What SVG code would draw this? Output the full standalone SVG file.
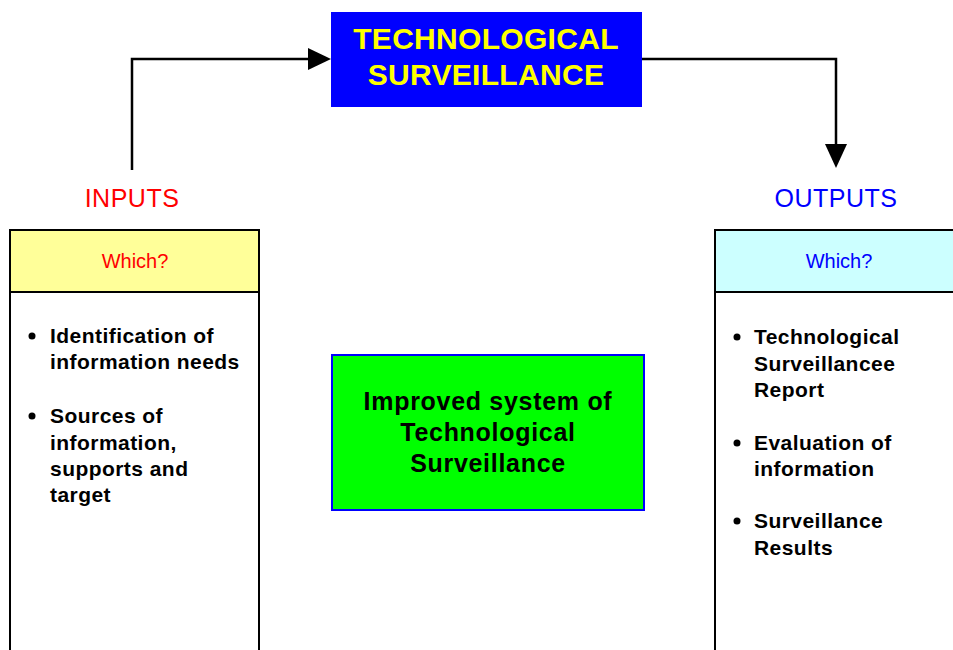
<svg xmlns="http://www.w3.org/2000/svg" width="953" height="650" viewBox="0 0 953 650">
<style>
text{font-family:"Liberation Sans",Arial,sans-serif}
.b{font-weight:bold;font-size:21px;fill:#000;letter-spacing:0.45px}
.g{font-weight:bold;font-size:25px;fill:#000;letter-spacing:0.7px}
.c{stroke:#000;stroke-width:2.5;fill:none}
</style>
<rect width="953" height="650" fill="#fff"/>
<g id="connectors">
<path class="c" d="M132,170V59H308"/>
<path d="M308,48L331,59L308,70z" fill="#000"/>
<path class="c" d="M642,59H836V146"/>
<path d="M825,144L836,168L847,144z" fill="#000"/>
</g>
<g id="title">
<rect x="331" y="12" width="311" height="95" fill="#0000ff"/>
<text x="486" y="49" text-anchor="middle" font-size="30" font-weight="bold" fill="#ffff00" letter-spacing="0.3">TECHNOLOGICAL</text>
<text x="486" y="85" text-anchor="middle" font-size="30" font-weight="bold" fill="#ffff00" letter-spacing="0.3">SURVEILLANCE</text>
</g>
<g id="inputs-label"><text x="132" y="207" text-anchor="middle" font-size="25" fill="#ff0000" letter-spacing="0.5">INPUTS</text></g>
<g id="outputs-label"><text x="836" y="207" text-anchor="middle" font-size="25" fill="#0000ff" letter-spacing="0.5">OUTPUTS</text></g>
<g id="inputs">
<rect x="10" y="230" width="249" height="430" fill="#fff" stroke="#000" stroke-width="2"/>
<rect x="10" y="230" width="249" height="62" fill="#ffff99" stroke="#000" stroke-width="2"/>
<text x="135" y="268" text-anchor="middle" font-size="20" fill="#ff0000">Which?</text>
<circle cx="32" cy="336" r="3.5" fill="#000"/>
<text class="b" x="50" y="343">Identification of</text>
<text class="b" x="50" y="369">information needs</text>
<circle cx="32" cy="416" r="3.5" fill="#000"/>
<text class="b" x="50" y="423">Sources of</text>
<text class="b" x="50" y="450">information,</text>
<text class="b" x="50" y="476">supports and</text>
<text class="b" x="50" y="502">target</text>
</g>
<g id="outputs">
<rect x="715" y="230" width="250" height="430" fill="#fff" stroke="#000" stroke-width="2"/>
<rect x="715" y="230" width="250" height="62" fill="#ccffff" stroke="#000" stroke-width="2"/>
<text x="839" y="268" text-anchor="middle" font-size="20" fill="#0000ff">Which?</text>
<circle cx="737" cy="337" r="3.5" fill="#000"/>
<text class="b" x="754" y="344">Technological</text>
<text class="b" x="754" y="371">Surveillancee</text>
<text class="b" x="754" y="397">Report</text>
<circle cx="737" cy="443" r="3.5" fill="#000"/>
<text class="b" x="754" y="450">Evaluation of</text>
<text class="b" x="754" y="476">information</text>
<circle cx="737" cy="521" r="3.5" fill="#000"/>
<text class="b" x="754" y="528">Surveillance</text>
<text class="b" x="754" y="555">Results</text>
</g>
<g id="center">
<rect x="332" y="355" width="312" height="155" fill="#00ff00" stroke="#0000ff" stroke-width="2"/>
<text class="g" x="488" y="410" text-anchor="middle">Improved system of</text>
<text class="g" x="488" y="441" text-anchor="middle">Technological</text>
<text class="g" x="488" y="472" text-anchor="middle">Surveillance</text>
</g>
</svg>
